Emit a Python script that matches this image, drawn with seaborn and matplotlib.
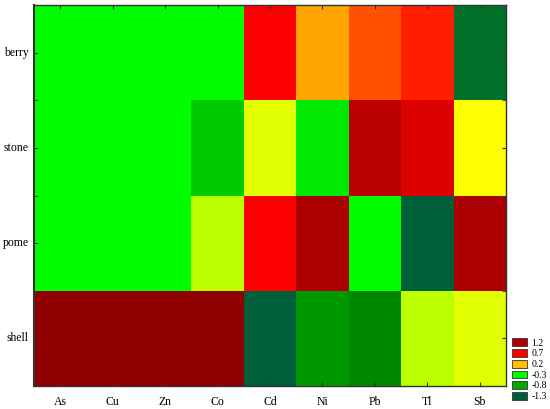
import numpy as np
import pandas as pd
import matplotlib
matplotlib.use("Agg")
import matplotlib.pyplot as plt
from matplotlib.colors import LinearSegmentedColormap
from matplotlib.patches import Patch
from matplotlib.ticker import FixedLocator
import seaborn as sns

# data
metals = ['As', 'Cu', 'Zn', 'Co', 'Cd', 'Ni', 'Pb', 'Tl', 'Sb']
fruits = ['berry', 'stone', 'pome', 'shell']
berry = [-0.3, -0.3, -0.3, -0.3, 0.7, 0.2, 0.45, 0.6, -1.2]
stone = [-0.3, -0.3, -0.3, -0.55, 0.0, -0.4, 1.0, 0.85, 0.05]
pome = [-0.3, -0.3, -0.3, -0.05, 0.7, 1.1, -0.3, -1.5, 1.1]
shell = [1.3, 1.3, 1.3, 1.3, -1.5, -0.8, -0.9, -0.05, 0.0]

legend_levels = ['1.2', '0.7', '0.2', '-0.3', '-0.8', '-1.3']
legend_colors = ['#b00000', '#ff0000', '#ffc000', '#00ff00', '#00a800', '#005f3a']

# colour scale nodes (value, colour), Statistica-like green-yellow-red
vmin, vmax = -1.6, 1.3
nodes = [(-1.6, '#005a40'), (-1.2, '#007028'), (-0.9, '#008800'),
         (-0.8, '#009900'), (-0.55, '#00cc00'), (-0.3, '#00ff00'),
         (-0.05, '#bfff00'), (0.05, '#ffff00'), (0.2, '#ffa500'),
         (0.45, '#ff5000'), (0.7, '#ff0000'), (1.0, '#bb0000'),
         (1.3, '#900000')]
cmap = LinearSegmentedColormap.from_list(
    'stat', [((v - vmin) / (vmax - vmin), c) for v, c in nodes])

df = pd.DataFrame([berry, stone, pome, shell], index=fruits, columns=metals)

plt.rcParams['font.family'] = ['Liberation Serif', 'DejaVu Serif']

fig = plt.figure(figsize=(5.5, 4.09), dpi=100)
ax = fig.add_axes([34 / 550, 1 - 386 / 409, 472 / 550, 381 / 409])

sns.heatmap(df, cmap=cmap, vmin=vmin, vmax=vmax, cbar=False, ax=ax,
            linewidths=0)

for s in ax.spines.values():
    s.set_visible(True)
    s.set_color('#333333')
    s.set_linewidth(1.0)
ax.spines['left'].set_linewidth(1.5)

ax.set_xlabel('')
ax.set_ylabel('')
ax.set_xticklabels(metals, rotation=0, fontsize=8.5)
ax.set_yticklabels(fruits, rotation=0, fontsize=8.5)
ax.yaxis.set_minor_locator(FixedLocator(np.arange(1, len(fruits))))
ax.tick_params(axis='both', which='both', direction='in', length=3,
               color='#333333', top=True, right=True)
ax.tick_params(axis='y', pad=4)
ax.tick_params(axis='x', pad=7)

handles = [Patch(facecolor=c, edgecolor='#333333', linewidth=0.6)
           for c in legend_colors]
fig.legend(handles, legend_levels, loc='lower left',
           bbox_to_anchor=(506 / 550, 2 / 409), frameon=False,
           fontsize=7, handlelength=1.6, handleheight=0.85,
           labelspacing=0.15, handletextpad=0.4, borderaxespad=0.2)

fig.savefig('out.png', dpi=100)
